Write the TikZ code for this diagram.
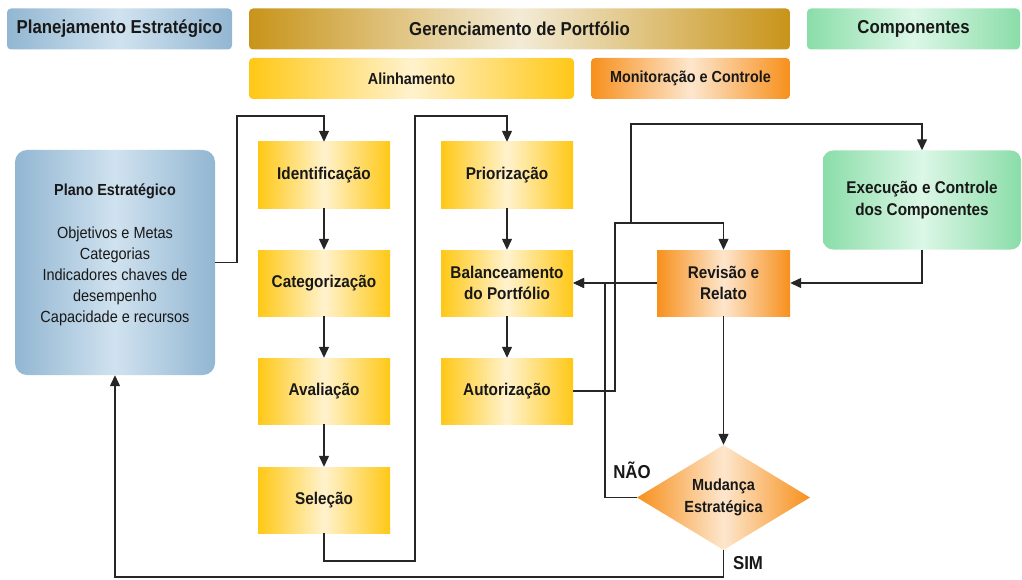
\documentclass[tikz,border=0pt]{standalone}
\usepackage{fontspec}
\setmainfont{Liberation Sans}[FakeStretch=0.9]
\usetikzlibrary{arrows.meta,shapes.geometric}

\definecolor{blueEdge}{RGB}{146,182,210}
\definecolor{blueMid}{RGB}{208,226,239}
\definecolor{goldEdge}{RGB}{200,148,26}
\definecolor{goldMid}{RGB}{243,235,214}
\definecolor{greenEdge}{RGB}{138,221,168}
\definecolor{greenMid}{RGB}{220,247,231}
\definecolor{yelEdge}{RGB}{255,200,22}
\definecolor{yelMid}{RGB}{255,242,205}
\definecolor{orgEdge}{RGB}{247,144,28}
\definecolor{orgMid}{RGB}{253,230,205}
\definecolor{ink}{RGB}{24,24,24}
\definecolor{wire}{RGB}{38,38,38}

\tikzset{
  hdr/.style={rounded corners=4pt, minimum height=41pt, inner sep=0pt,
    text=ink, font=\fontsize{18.7}{22}\selectfont\bfseries},
  subhdr/.style={hdr, font=\fontsize{16}{19}\selectfont\bfseries},
  bluefill/.style={left color=blueEdge, right color=blueEdge, middle color=blueMid},
  goldfill/.style={left color=goldEdge, right color=goldEdge, middle color=goldMid},
  greenfill/.style={left color=greenEdge, right color=greenEdge, middle color=greenMid},
  yelfill/.style={left color=yelEdge, right color=yelEdge, middle color=yelMid},
  orgfill/.style={left color=orgEdge, right color=orgEdge, middle color=orgMid},
  stepbox/.style={yelfill, minimum width=132pt, minimum height=66pt, inner sep=0pt,
    align=center, text=ink, font=\fontsize{17}{21.5}\selectfont\bfseries},
  link/.style={draw=wire, line width=1.3pt},
  arr/.style={link, -{Triangle[length=11pt,width=10pt]}},
  lbl/.style={text=ink, inner sep=0pt, font=\fontsize{18.7}{22}\selectfont\bfseries},
}

\begin{document}
\begin{tikzpicture}[x=1pt,y=-1pt]
\useasboundingbox (0,0) rectangle (1022,580);

% header bands
\node[hdr, bluefill, minimum width=225pt] (hplan) at (119.5,29) {Planejamento Estratégico};
\node[hdr, goldfill, minimum width=541pt] (hger) at (519.5,29) {Gerenciamento de Portfólio};
\node[hdr, greenfill, minimum width=213pt] (hcomp) at (913.5,29) {Componentes};
\node[subhdr, yelfill, minimum width=325pt] (halin) at (411.5,78.5) {Alinhamento};
\node[subhdr, orgfill, minimum width=199pt] (hmon) at (690.5,78.5) {Monitoração e Controle};

% strategic plan
\node[bluefill, rounded corners=12pt, minimum width=200pt, minimum height=225pt, inner sep=0pt] (plano) at (115,262.5) {};
\node[text=ink, align=center, inner sep=0pt, font=\fontsize{16.1}{21.2}\selectfont] (planotxt) at (115,255)
  {{\fontsize{16}{21.2}\selectfont\bfseries Plano Estratégico}\\[21.5pt]Objetivos e Metas\\Categorias\\Indicadores chaves de\\desempenho\\Capacidade e recursos};

% alignment steps
\node[stepbox] (ident) at (324,175) {Identificação};
\node[stepbox] (categ) at (324,283) {Categorização};
\node[stepbox] (aval)  at (324,391) {Avaliação};
\node[stepbox] (sel)   at (324,500) {Seleção};
\node[stepbox] (prior) at (507,175) {Priorização};
\node[stepbox] (balan) at (507,283) {Balanceamento\\do Portfólio};
\node[stepbox] (autor) at (507,391) {Autorização};

% monitoring and components
\node[stepbox, orgfill, minimum width=133pt] (rev) at (723.5,283) {Revisão e\\Relato};
\node[greenfill, rounded corners=10pt, minimum width=198pt, minimum height=99pt, inner sep=0pt,
  align=center, text=ink, font=\fontsize{17}{22}\selectfont\bfseries] (exec) at (922,200)
  {Execução e Controle\\dos Componentes};
\node[shape=diamond, shape aspect=1.65, orgfill, minimum width=173pt, minimum height=105pt, inner sep=0pt,
  align=center, text=ink, font=\fontsize{16.1}{22}\selectfont\bfseries] (dia) at (723.5,497.5)
  {Mudança\\Estratégica};

% connectors
\draw[arr] (plano.east) -- (237,262.5) -- (237,116) -- (324,116) -- (ident.north);
\draw[arr] (ident.south) -- (categ.north);
\draw[arr] (categ.south) -- (aval.north);
\draw[arr] (aval.south) -- (sel.north);
\draw[arr] (sel.south) -- (324,561) -- (415,561) -- (415,116) -- (507,116) -- (prior.north);
\draw[arr] (prior.south) -- (balan.north);
\draw[arr] (balan.south) -- (autor.north);
\draw[arr] (autor.east) -- (615,391) -- (615,223) -- (723.5,223) -- (rev.north);
\draw[arr] (autor.east) -- (615,391) -- (615,223) -- (631,223) -- (631,124) -- (922,124) -- (exec.north);
\draw[arr] (exec.south) |- (rev.east);
\draw[arr] (rev.west) -- (balan.east);
\draw[arr] (rev.south) -- (dia.north);
\draw[arr] (dia.west) -| (605,283) -- (balan.east);
\draw[arr] (dia.south) -- (723.5,577) -| (plano.south);

% decision labels
\node[lbl] (nao) at (632,470) {NÃO};
\node[lbl] (sim) at (748,563) {SIM};
\end{tikzpicture}
\end{document}
